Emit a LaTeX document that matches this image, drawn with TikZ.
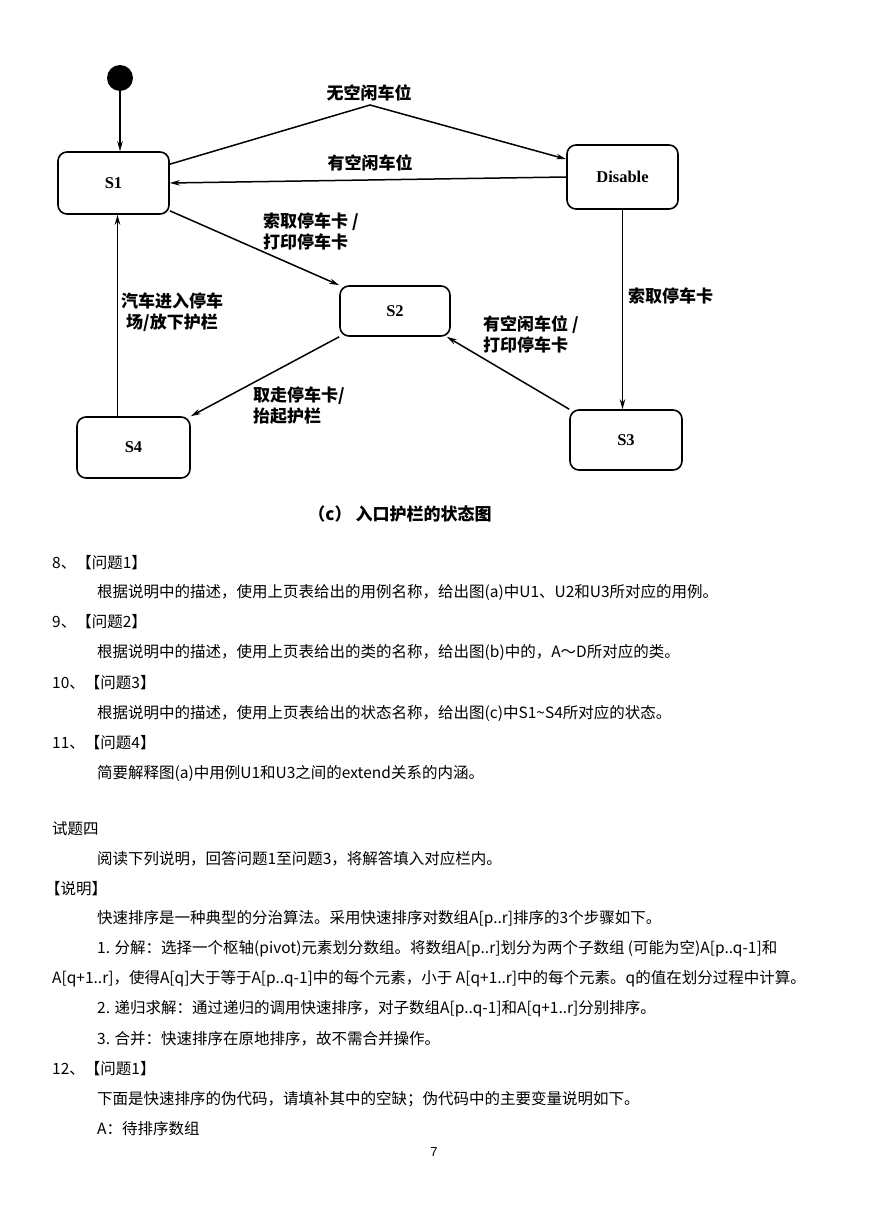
\documentclass[tikz,border=0pt]{standalone}
\usepackage{fontspec}
\setmainfont{Noto Sans CJK SC}
\newfontfamily\latinserif{Liberation Serif}
\newfontfamily\pagefont{Liberation Sans}
\usetikzlibrary{arrows.meta,positioning}

\begin{document}
\begin{tikzpicture}[x=1pt,y=-1pt,
  stbox/.style={draw,line width=1.6pt,rounded corners=9pt,inner sep=0pt,
    font=\latinserif\bfseries\fontsize{16.5}{18}\selectfont},
  trans/.style={line width=1.5pt,-{Stealth[length=10pt,width=5.5pt]}},
  lbl/.style={inner sep=0pt,font=\bfseries\fontsize{17}{21}\selectfont},
  txt/.style={anchor=west,inner sep=0pt,font=\fontsize{15.5}{18}\selectfont}]
  \useasboundingbox (0,0) rectangle (869,1228);
  % states
  \node[circle,fill,minimum size=26pt,inner sep=0pt] (init) at (120,78) {};
  \node[stbox,minimum width=111pt,minimum height=62pt] (s1) at (113.5,183) {S1};
  \node[stbox,minimum width=111pt,minimum height=64pt] (dis) at (622.5,177) {Disable};
  \node[stbox,minimum width=110pt,minimum height=50pt] (s2) at (395,311) {S2};
  \node[stbox,minimum width=113pt,minimum height=61pt] (s4) at (133.5,447.5) {S4};
  \node[stbox,minimum width=112pt,minimum height=60pt] (s3) at (626,440) {S3};
  \coordinate (peak) at (370,105);
  % transitions
  \draw[trans] (init.south) -- (init.south |- s1.north);
  \draw[trans] ([yshift=-13pt]s1.north east) -- (peak) -- ([yshift=-15pt]dis.north west);
  \draw[trans] (dis.west) -- (s1.east);
  \draw[trans] ([yshift=4pt]s1.south east) -- (s2.north west);
  \draw[trans] (s2.south west) -- (s4.north east);
  \draw[trans] (s3.north west) -- ([xshift=-4pt]s2.south east);
  \draw[trans] (dis.south) -- (dis.south |- s3.north);
  \draw[trans] ([xshift=-16pt]s4.north) -- ([xshift=-16pt]s4.north |- s1.south);
  % labels
  \node[lbl] (l1) at (369,93) {无空闲车位};
  \node[lbl] (l2) at (370,163) {有空闲车位};
  \node[lbl,anchor=west,align=left] (l3) at (263,231) {索取停车卡 /\\打印停车卡};
  \node[lbl,align=center] (l4) at (172,312) {汽车进入停车\\场/放下护栏};
  \node[lbl,anchor=west,align=left] (l5) at (253,406) {取走停车卡/\\抬起护栏};
  \node[lbl,anchor=west,align=left] (l6) at (483,334) {有空闲车位 /\\打印停车卡};
  \node[lbl,anchor=west] (l7) at (628,296) {索取停车卡};
  \node[lbl] (cap) at (400,514) {（c） 入口护栏的状态图};
  % text of the page
  \foreach \x/\y/\t [count=\i] in {
    52/563/{8、【问题1】},
    97/592/{根据说明中的描述，使用上页表给出的用例名称，给出图(a)中U1、U2和U3所对应的用例。},
    52/622/{9、【问题2】},
    97/652/{根据说明中的描述，使用上页表给出的类的名称，给出图(b)中的，A～D所对应的类。},
    52/683/{10、【问题3】},
    97/713/{根据说明中的描述，使用上页表给出的状态名称，给出图(c)中S1\textasciitilde S4所对应的状态。},
    52/743/{11、【问题4】},
    97/773/{简要解释图(a)中用例U1和U3之间的extend关系的内涵。},
    52/829/{试题四},
    97/859/{阅读下列说明，回答问题1至问题3，将解答填入对应栏内。},
    45/889/{【说明】},
    97/919/{快速排序是一种典型的分治算法。采用快速排序对数组A[p..r]排序的3个步骤如下。},
    97/949/{1. 分解：选择一个枢轴(pivot)元素划分数组。将数组A[p..r]划分为两个子数组 (可能为空)A[p..q-1]和},
    52/979/{A[q+1..r]，使得A[q]大于等于A[p..q-1]中的每个元素，小于 A[q+1..r]中的每个元素。q的值在划分过程中计算。},
    97/1009/{2. 递归求解：通过递归的调用快速排序，对子数组A[p..q-1]和A[q+1..r]分别排序。},
    97/1039/{3. 合并：快速排序在原地排序，故不需合并操作。},
    52/1069/{12、【问题1】},
    97/1099/{下面是快速排序的伪代码，请填补其中的空缺；伪代码中的主要变量说明如下。},
    97/1129/{A：待排序数组}}
    \node[txt] (t\i) at (\x,\y) {\t};
  \node[font=\pagefont\fontsize{13}{15}\selectfont] (pg) at (434,1152) {7};
\end{tikzpicture}
\end{document}
